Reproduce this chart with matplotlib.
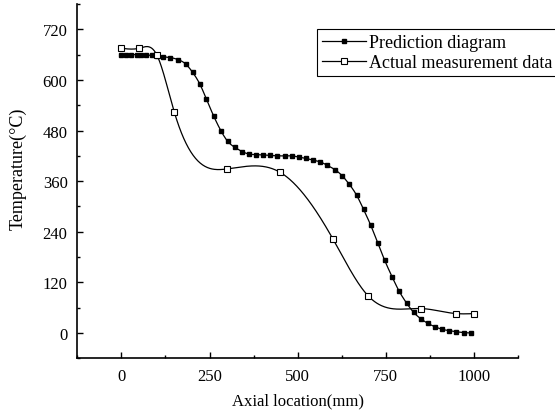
import numpy as np
import matplotlib
matplotlib.use('Agg')
from matplotlib import pyplot as plt
from matplotlib.ticker import MultipleLocator

# prediction (filled squares)
pred_x = [0, 14, 28, 43, 57, 71, 86, 100, 119, 139, 161, 182, 202, 222, 241, 262,
          282, 302, 322, 343, 363, 383, 403, 422, 442, 463, 483, 503, 523, 543, 563,
          583, 606, 626, 646, 667, 687, 707, 727, 747, 768, 788, 809, 829, 849, 869,
          889, 909, 930, 950, 971, 991]
pred_t = [660, 660, 660, 660, 659, 659, 658, 657, 655, 653, 648, 638, 618, 591, 555, 514,
          480, 454, 440, 430, 424, 423, 422, 421, 420, 420, 420, 417, 414, 410, 406,
          398, 387, 373, 353, 327, 293, 256, 214, 172, 133, 99, 71, 49, 34, 23,
          15, 9, 5.5, 3, 1, 0]

# actual measurement (open squares)
meas_x = [0, 50, 100, 150, 300, 450, 600, 700, 850, 950, 1000]
meas_t = [675, 675, 660, 524, 389, 381, 223, 88, 58, 46, 46]


def natural_spline(x, y, n=600):
    x = np.asarray(x, float)
    y = np.asarray(y, float)
    k = len(x)
    h = np.diff(x)
    A = np.zeros((k, k))
    b = np.zeros(k)
    A[0, 0] = A[-1, -1] = 1
    for i in range(1, k - 1):
        A[i, i - 1] = h[i - 1]
        A[i, i] = 2 * (h[i - 1] + h[i])
        A[i, i + 1] = h[i]
        b[i] = 3 * ((y[i + 1] - y[i]) / h[i] - (y[i] - y[i - 1]) / h[i - 1])
    c = np.linalg.solve(A, b)
    xs = np.linspace(x[0], x[-1], n)
    idx = np.clip(np.searchsorted(x, xs) - 1, 0, k - 2)
    dx = xs - x[idx]
    bb = (y[idx + 1] - y[idx]) / h[idx] - h[idx] * (2 * c[idx] + c[idx + 1]) / 3
    dd = (c[idx + 1] - c[idx]) / (3 * h[idx])
    ys = y[idx] + bb * dx + c[idx] * dx ** 2 + dd * dx ** 3
    return xs, ys


plt.rcParams['font.family'] = 'Liberation Serif'
plt.rcParams['font.size'] = 12

fig = plt.figure(figsize=(5.55, 4.14), dpi=100)
ax = fig.add_axes([0.1393, 0.1321, 0.7940, 0.8559])

px, py = natural_spline(pred_x, pred_t)
ax.plot(px, py, color='black', lw=0.9)
ax.plot(pred_x, pred_t, 's', color='black', ms=3.4)

mx, my = natural_spline(meas_x, meas_t)
ax.plot(mx, my, color='black', lw=0.9)
ax.plot(meas_x, meas_t, 's', mfc='white', mec='black', mew=0.8, ms=4)

h1, = ax.plot([], [], '-s', color='black', lw=0.9, ms=3.4, label='Prediction diagram')
h2, = ax.plot([], [], '-s', color='black', lw=0.9, mfc='white', mew=0.8, ms=4,
              label='Actual measurement data')
leg = ax.legend(handles=[h1, h2], loc='upper left', bbox_to_anchor=(0.5712, 0.928),
                bbox_transform=fig.transFigure, fancybox=False, framealpha=1,
                edgecolor='black', fontsize=13, handlelength=2.4, handletextpad=0.2,
                borderpad=0.3, labelspacing=0.15, borderaxespad=0)
leg.get_frame().set_linewidth(0.8)

ax.set_xlim(-125, 1125)
ax.set_ylim(-60, 780)
ax.xaxis.set_major_locator(MultipleLocator(250))
ax.xaxis.set_minor_locator(MultipleLocator(125))
ax.yaxis.set_major_locator(MultipleLocator(120))
ax.yaxis.set_minor_locator(MultipleLocator(60))
ax.tick_params(which='both', direction='in', width=1.0, pad=7, labelsize=12)
ax.tick_params(which='major', length=4.5)
ax.tick_params(which='minor', length=2.5)
for s in ['top', 'right']:
    ax.spines[s].set_visible(False)
for s in ['left', 'bottom']:
    ax.spines[s].set_linewidth(1.2)

ax.set_xlabel('Axial location(mm)', fontsize=12, labelpad=6)
ax.set_ylabel('Temperature(°C)', fontsize=13)
ax.yaxis.set_label_coords(-0.114, 0.538)

plt.savefig('out.png', dpi=100)
